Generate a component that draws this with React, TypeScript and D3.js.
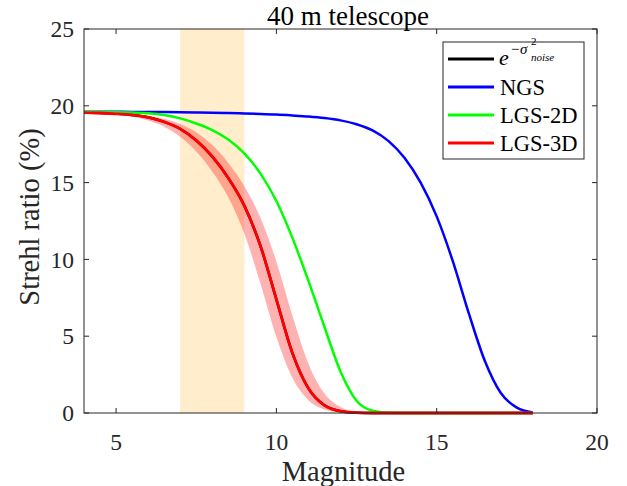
import React from "react";
import * as d3 from "d3";

const magnitudes = [4, 4.5, 5, 5.5, 6, 6.5, 7, 7.5, 8, 8.5, 9, 9.5, 10, 10.5, 11, 11.5, 12, 12.5, 13, 13.5, 14, 14.5, 15, 15.5, 16, 16.5, 17, 17.5, 18];

const ngs = [19.62, 19.62, 19.61, 19.6, 19.6, 19.59, 19.58, 19.57, 19.55, 19.53, 19.5, 19.47, 19.43, 19.37, 19.3, 19.2, 19.05, 18.8, 18.4, 17.7, 16.6, 15.0, 12.8, 9.9, 6.5, 3.4, 1.3, 0.35, 0.04];

const lgs2d = [19.62, 19.6, 19.58, 19.56, 19.52, 19.4, 19.18, 18.85, 18.42, 17.8, 16.9, 15.6, 13.8, 11.4, 8.6, 5.6, 2.7, 0.8, 0.15, 0.02, 0, 0, 0, 0, 0, 0, 0, 0, 0];

const lgs3d = [19.56, 19.53, 19.48, 19.4, 19.25, 18.95, 18.5, 17.75, 16.7, 15.3, 13.5, 10.9, 7.4, 3.9, 1.6, 0.5, 0.12, 0.02, 0, 0, 0, 0, 0, 0, 0, 0, 0, 0, 0];

const lgs3dUpper = [19.57, 19.55, 19.51, 19.46, 19.36, 19.16, 18.82, 18.28, 17.44, 16.28, 14.76, 12.72, 9.85, 6.35, 3.21, 1.27, 0.39, 0.09, 0.014, 0, 0, 0, 0, 0, 0, 0, 0, 0, 0];

const lgs3dLower = [19.54, 19.5, 19.42, 19.3, 19.04, 18.64, 17.98, 17.02, 15.72, 14.04, 11.68, 8.45, 4.95, 2.29, 0.83, 0.23, 0.05, 0.006, 0, 0, 0, 0, 0, 0, 0, 0, 0, 0, 0];

const noiseTerm = lgs3d;

const highlightRange = [7, 9];
const xTicks = [5, 10, 15, 20];
const yTicks = [0, 5, 10, 15, 20, 25];
const xDomain = [4, 20];
const yDomain = [0, 25];

const legendLabels = ["NGS", "LGS-2D", "LGS-3D"];
const legendColors = ["#0000ff", "#00ff00", "#ff0000"];

const W = 627, H = 486;
const M = { left: 84, right: 30, top: 29, bottom: 73 };
const FONT = "Liberation Serif, DejaVu Serif, Times New Roman, serif";
const AX = "#262626";

export default function App() {
  const x = d3.scaleLinear().domain(xDomain).range([M.left, W - M.right]);
  const y = d3.scaleLinear().domain(yDomain).range([H - M.bottom, M.top]);
  const x0 = M.left, x1 = W - M.right, y0 = H - M.bottom, y1 = M.top;

  const line = d3.line<number>().x((_, i) => x(magnitudes[i])).y((d) => y(d)).curve(d3.curveMonotoneX);
  const area = d3.area<number>()
    .x((_, i) => x(magnitudes[i]))
    .y0((_, i) => y(lgs3dLower[i]))
    .y1((d) => y(d))
    .curve(d3.curveMonotoneX);

  const lx = 443, ly = 42, lw = 141, lh = 117;
  const rowY = [59, 87, 115, 143];
  const ts = { fontFamily: FONT };

  return (
    <svg width={W} height={H} style={{ position: "absolute", left: 0, top: 0, background: "#fff", fontFamily: FONT }}>
      <rect x={0} y={0} width={W} height={H} fill="#fff" />
      <rect x={x(highlightRange[0])} y={y1} width={x(highlightRange[1]) - x(highlightRange[0])} height={y0 - y1} fill="rgb(255,237,204)" />
      <path d={area(lgs3dUpper) || ""} fill="#ff0000" fillOpacity={0.3} stroke="none" />
      <path d={line(noiseTerm) || ""} fill="none" stroke="#000" strokeWidth={2.5} />
      <path d={line(ngs) || ""} fill="none" stroke="#0000ff" strokeWidth={2.5} />
      <path d={line(lgs2d) || ""} fill="none" stroke="#00ff00" strokeWidth={2.5} />
      <path d={line(lgs3d) || ""} fill="none" stroke="#ff0000" strokeWidth={2.8} />

      <rect x={x0} y={y1} width={x1 - x0} height={y0 - y1} fill="none" stroke={AX} strokeWidth={1} />
      {xTicks.map((t) => (
        <g key={"xt" + t}>
          <line x1={x(t)} x2={x(t)} y1={y0} y2={y0 - 5} stroke={AX} />
          <line x1={x(t)} x2={x(t)} y1={y1} y2={y1 + 5} stroke={AX} />
          <text style={ts} x={x(t)} y={y0 + 37} textAnchor="middle" fontSize={23.5} fill={AX}>{t}</text>
        </g>
      ))}
      {yTicks.map((t) => (
        <g key={"yt" + t}>
          <line x1={x0} x2={x0 + 5} y1={y(t)} y2={y(t)} stroke={AX} />
          <line x1={x1} x2={x1 - 5} y1={y(t)} y2={y(t)} stroke={AX} />
          <text style={ts} x={x0 - 10} y={y(t)} dy="0.35em" textAnchor="end" fontSize={23.5} fill={AX}>{t}</text>
        </g>
      ))}
      <text style={ts} x={(x0 + x1) / 2 + 3} y={481} textAnchor="middle" fontSize={28.5} fill={AX}>Magnitude</text>
      <text style={ts} transform={`translate(39,${(y0 + y1) / 2 - 4}) rotate(-90)`} textAnchor="middle" fontSize={28.5} fill={AX}>Strehl ratio (%)</text>
      <text style={ts} x={348} y={25} textAnchor="middle" fontSize={27} fill="#000">40 m telescope</text>

      <rect x={lx} y={ly} width={lw} height={lh} fill="#fff" stroke={AX} strokeWidth={1} />
      <line x1={448} x2={494} y1={rowY[0]} y2={rowY[0]} stroke="#000" strokeWidth={3} />
      <text style={ts} x={499} y={65} fontSize={22} fontStyle="italic" fill="#000">e</text>
      <text style={ts} x={510} y={54} fontSize={15} fontStyle="italic" fill="#000">−σ</text>
      <text style={ts} x={531} y={45} fontSize={11} fill="#000">2</text>
      <text style={ts} x={531} y={61} fontSize={11} fontStyle="italic" fill="#000">noise</text>
      {legendLabels.map((lab, i) => (
        <g key={lab}>
          <line x1={448} x2={494} y1={rowY[i + 1]} y2={rowY[i + 1]} stroke={legendColors[i]} strokeWidth={3} />
          <text style={ts} x={500} y={rowY[i + 1]} dy="0.35em" fontSize={22.5} fill="#000">{lab}</text>
        </g>
      ))}
    </svg>
  );
}
